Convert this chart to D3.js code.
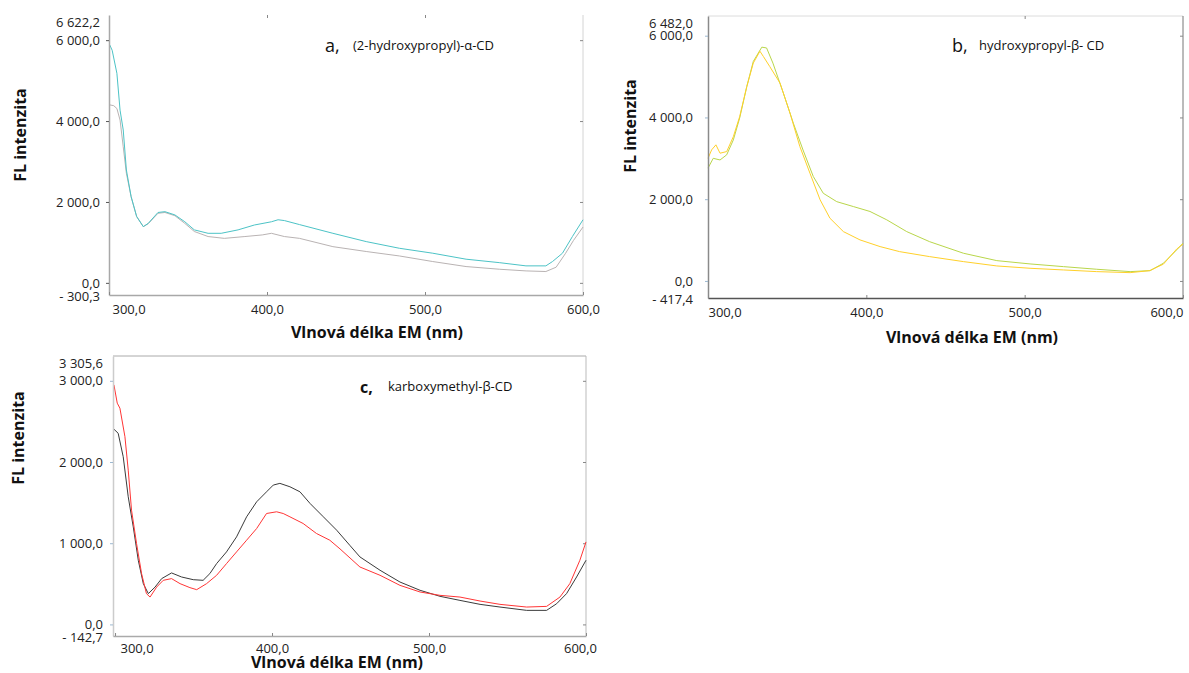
<!DOCTYPE html>
<html>
<head>
<meta charset="utf-8">
<script src="https://cdn.jsdelivr.net/npm/d3@7"></script>
<style>
  body { margin: 0; background: #fff; }
  text { font-family: "Open Sans", sans-serif; }
</style>
</head>
<body>
<div id="vis"></div>
<script>
// ---- data: [wavelength nm, FL intensity] ----
var wavelengthTicks = [300, 400, 500, 600];
var ticksAB = [0, 2000, 4000, 6000];
var ticksC = [0, 1000, 2000, 3000];

var aCyan = [[300.5,5880],[302,5750],[305,5180],[307,4270],[309,3780],[311,2790],[314,2130],[317.5,1640],[321.7,1390],[324.8,1470],[331,1740],[335.4,1760],[341.7,1680],[348,1510],[354,1310],[362.7,1225],[371,1225],[381.7,1310],[392,1430],[402.8,1510],[407,1560],[411,1540],[420.6,1440],[441.7,1225],[462.8,1020],[483.8,855],[504.9,733],[526,585],[547,500],[563.9,420],[576.5,420],[580.7,527],[587,733],[593.3,1145],[600,1560]];
var aGray = [[300.5,4400],[303,4380],[305,4310],[307,4025],[309,3365],[311,2710],[314,2130],[317.5,1640],[321.7,1390],[324.8,1460],[331,1720],[335.4,1740],[341.7,1660],[348,1470],[354,1270],[362.7,1145],[373,1100],[386,1145],[397,1185],[402.8,1225],[411,1145],[420.6,1100],[441.7,895],[462.8,775],[483.8,665],[504.9,527],[526,403],[547,337],[564,295],[576.5,280],[583,387],[589,733],[594,1050],[600,1380]];

var bYellow = [[300,3000],[302.3,3207],[305,3330],[307.6,3125],[311.8,3165],[316,3530],[320,4020],[324.5,4755],[328.6,5330],[332.8,5620],[335,5490],[339,5245],[345.5,4840],[351.8,4105],[358,3290],[364.4,2635],[370.8,1985],[377,1535],[385.5,1207],[396,1004],[408.7,840],[421,717],[440,595],[461.3,473],[482.4,367],[503.4,310],[524.5,269],[545.5,228],[566.6,203],[579,252],[587.6,410],[596,780],[600,900]];
var bGreen = [[300,2760],[303.3,3000],[307.6,2960],[311.8,3085],[316,3450],[320,3985],[324.5,4755],[328.6,5370],[334,5720],[337,5700],[341,5330],[347.6,4595],[353.9,3860],[360,3205],[366.5,2555],[372.8,2145],[381.3,1940],[391.8,1820],[402.3,1700],[412.9,1495],[425.5,1207],[440,960],[461.3,678],[482.4,497],[503.4,416],[524.5,350],[545.5,286],[566.6,228],[579.2,252],[587.6,433],[596,759],[600,923]];

var cRed = [[299.3,2950],[301.4,2725],[303.1,2663],[306.3,2312],[308.4,1900],[310.5,1407],[313.7,996],[316.9,626],[320,379],[322.3,337],[326.5,460],[330.7,543],[336,564],[341.4,502],[347.7,453],[352,428],[358.3,502],[364.7,605],[371,749],[377.4,893],[383.8,1037],[390.2,1181],[396.5,1366],[402.9,1387],[407.1,1366],[411.4,1325],[419.8,1243],[428.3,1120],[436.8,1037],[443.3,930],[456,707],[468.8,605],[481.5,481],[494.3,399],[507,358],[519.7,337],[532.5,288],[545.2,247],[562.2,214],[574.9,222],[583.4,337],[589.7,502],[596.1,790],[600,1016]];
var cBlack = [[299.3,2404],[302,2354],[305.2,2065],[308.4,1572],[311.6,1201],[314.8,790],[318,502],[321.2,379],[325.5,460],[329.7,564],[336,634],[342.4,584],[349.8,551],[356.1,543],[360.4,626],[364.7,749],[371,893],[377.4,1078],[383.8,1325],[390.2,1510],[396.5,1633],[400.8,1716],[405,1737],[411.4,1695],[417.8,1633],[424.2,1490],[432.7,1325],[441.2,1160],[449.5,975],[456,831],[468.8,667],[481.5,522],[494.3,420],[507,346],[519.7,296],[532.5,247],[545.2,214],[562.2,173],[574.9,173],[581.3,255],[587.6,379],[594,584],[600,790]];

var width = 1189, height = 673;

var svg = d3.select("#vis").append("svg")
    .attr("width", width)
    .attr("height", height);

var fmt = d3.formatLocale({decimal: ",", thousands: "\u00a0", grouping: [3], minus: "- "}).format(",.1f");

var panels = [
    {
        left: 109, right: 583, top: 15, bottom: 295,
        xDomain: [300, 600], yDomain: [-300.3, 6622.2], yTicks: ticksAB,
        series: [{d: aGray, c: "#b9b3b3"}, {d: aCyan, c: "#4cc3c6"}],
        leftLine: "#a8a8a8", bottomLine: "#a8a8a8", topLine: null, rightLine: "#d4d4d4",
        yTickColor: "#555", labelGap: 9, xPad: 10, firstDx: 3, lastAnchor: "middle", lastDx: 0,
        topTicks: [400, 500],
        yTitle: [20, 135], xTitle: [377, 332],
        tag: "a,", tagX: 325, tagY: 52, tagBold: false, note: "(2-hydroxypropyl)-\u03b1-CD", noteX: 353
    },
    {
        left: 708, right: 1183, top: 16, bottom: 298,
        xDomain: [300, 600], yDomain: [-417.4, 6482.0], yTicks: ticksAB,
        series: [{d: bGreen, c: "#b9d64a"}, {d: bYellow, c: "#ffd02a"}],
        leftLine: "#8a8a8a", bottomLine: "#555", topLine: "#dcdcdc", rightLine: "#777",
        yTickColor: "#9db8d0", labelGap: 15, xPad: 10, firstDx: 0, lastAnchor: "end", lastDx: 0,
        topTicks: [500],
        yTitle: [630, 126], xTitle: [972, 337],
        tag: "b,", tagX: 952, tagY: 52, tagBold: false, note: "hydroxypropyl-\u03b2- CD", noteX: 979
    },
    {
        left: 113, right: 586, top: 356, bottom: 636,
        xDomain: [298.7, 600], yDomain: [-142.7, 3305.6], yTicks: ticksC,
        series: [{d: cBlack, c: "#3a3a3a"}, {d: cRed, c: "#ff3535"}],
        leftLine: "#cccccc", bottomLine: "#aaaaaa", topLine: "#aaaaaa", rightLine: "#bbbbbb",
        yTickColor: "#9db8d0", labelGap: 10, xPad: 7.5, firstDx: 7, lastAnchor: "middle", lastDx: -6,
        topTicks: [],
        yTitle: [18, 438], xTitle: [337, 662],
        tag: "c,", tagX: 360, tagY: 393, tagBold: true, note: "karboxymethyl-\u03b2-CD", noteX: 388
    }
];

panels.forEach(function(p) {
    var x = d3.scaleLinear().domain(p.xDomain).range([p.left, p.right]);
    var y = d3.scaleLinear().domain(p.yDomain).range([p.bottom, p.top]);
    var g = svg.append("g");

    // frame lines
    if (p.topLine) {
        g.append("line").attr("x1", p.left).attr("x2", p.right).attr("y1", p.top).attr("y2", p.top)
            .attr("stroke", p.topLine);
    }
    g.append("line").attr("x1", p.right).attr("x2", p.right).attr("y1", p.top).attr("y2", p.bottom)
        .attr("stroke", p.rightLine);

    // inner ticks on right and top
    g.append("g").attr("transform", "translate(" + p.right + ",0)")
        .call(d3.axisRight(y).tickValues(p.yTicks).tickSize(-3).tickSizeOuter(0).tickFormat(""))
        .call(function(s) { s.select(".domain").remove(); s.selectAll("line").attr("stroke", "#888"); });
    g.append("g").attr("transform", "translate(0," + p.top + ")")
        .call(d3.axisTop(x).tickValues(p.topTicks).tickSize(-3).tickSizeOuter(0).tickFormat(""))
        .call(function(s) { s.select(".domain").remove(); s.selectAll("line").attr("stroke", "#888"); });

    // curves
    var line = d3.line().x(function(d) { return x(d[0]); }).y(function(d) { return y(d[1]); });
    p.series.forEach(function(s) {
        g.append("path").datum(s.d)
            .attr("d", line)
            .attr("fill", "none")
            .attr("stroke", s.c)
            .attr("stroke-width", 1);
    });

    // left axis
    var ya = g.append("g").attr("transform", "translate(" + p.left + ",0)")
        .call(d3.axisLeft(y).tickValues(p.yTicks).tickSize(3).tickSizeOuter(0)
            .tickPadding(p.labelGap - 3).tickFormat(fmt));
    ya.select(".domain").attr("stroke", p.leftLine).attr("stroke-width", 1.5);
    ya.selectAll(".tick line").attr("stroke", p.yTickColor);
    ya.selectAll("text").attr("font-size", 13).attr("fill", "#222");

    // min / max labels of the y range
    [[p.yDomain[1], p.top + 7], [p.yDomain[0], p.bottom + 1]].forEach(function(e) {
        g.append("text").attr("x", p.left - p.labelGap).attr("y", e[1]).attr("dy", "0.35em")
            .attr("text-anchor", "end").attr("font-size", 13).attr("fill", "#222")
            .text(fmt(e[0]));
    });

    // bottom axis
    var xa = g.append("g").attr("transform", "translate(0," + p.bottom + ")")
        .call(d3.axisBottom(x).tickValues(wavelengthTicks).tickSize(-3).tickSizeOuter(0)
            .tickPadding(p.xPad).tickFormat(fmt));
    xa.select(".domain").attr("stroke", p.bottomLine).attr("stroke-width", 1.5);
    xa.selectAll(".tick line").attr("stroke", "#888");
    xa.selectAll("text").attr("font-size", 13).attr("fill", "#222");
    xa.selectAll(".tick").filter(function(d) { return d === 300; }).select("text")
        .attr("text-anchor", "start").attr("x", p.left + p.firstDx - x(300));
    xa.selectAll(".tick").filter(function(d) { return d === 600; }).select("text")
        .attr("text-anchor", p.lastAnchor).attr("x", p.lastDx);

    // axis titles
    g.append("text")
        .attr("transform", "translate(" + p.yTitle[0] + "," + p.yTitle[1] + ") rotate(-90)")
        .attr("text-anchor", "middle").attr("dy", "0.35em")
        .attr("font-size", 16).attr("font-weight", "bold").attr("fill", "#111")
        .text("FL intenzita");
    g.append("text")
        .attr("x", p.xTitle[0]).attr("y", p.xTitle[1]).attr("dy", "0.35em")
        .attr("text-anchor", "middle")
        .attr("font-size", 16).attr("font-weight", "bold").attr("fill", "#111")
        .text("Vlnov\u00e1 d\u00e9lka EM (nm)");

    // panel tag and compound name
    g.append("text").attr("x", p.tagX).attr("y", p.tagY)
        .attr("font-size", p.tagBold ? 16 : 18).attr("font-weight", p.tagBold ? "bold" : "normal")
        .attr("fill", "#111").text(p.tag);
    g.append("text").attr("x", p.noteX).attr("y", p.tagY - 2)
        .attr("font-size", 13).attr("fill", "#111").text(p.note);
});
</script>
</body>
</html>
